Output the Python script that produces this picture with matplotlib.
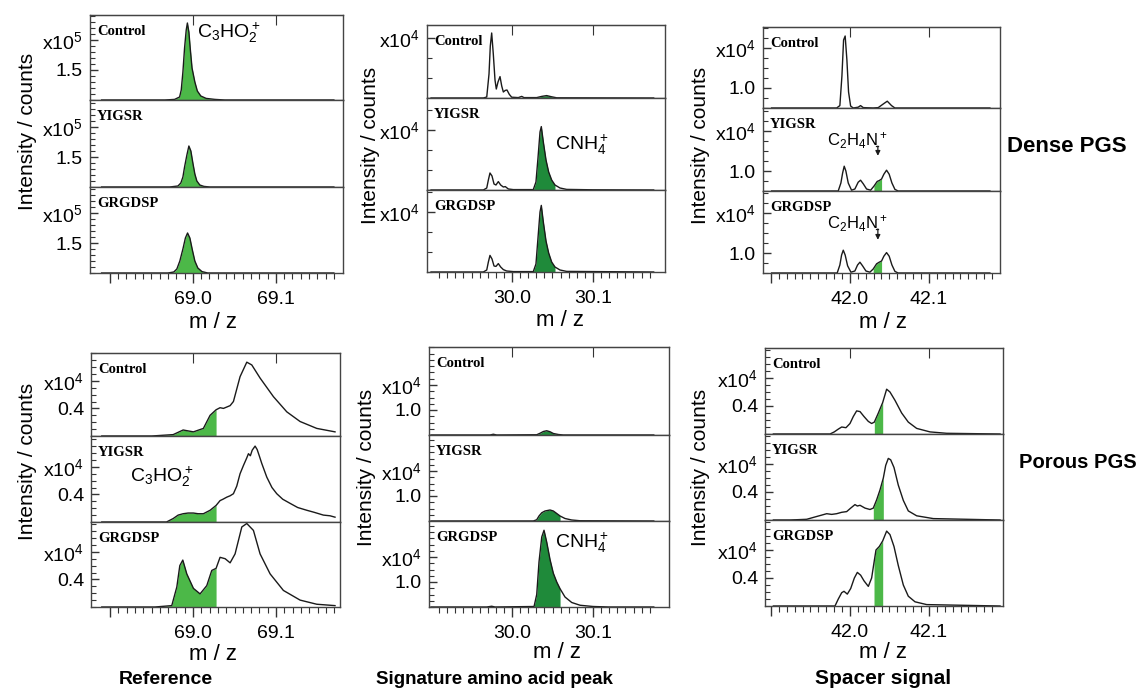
import numpy as np
import matplotlib
matplotlib.use("Agg")
import matplotlib.pyplot as plt
from matplotlib.ticker import FixedLocator, FixedFormatter, MultipleLocator, NullLocator

plt.rcParams['font.family'] = ['Liberation Sans', 'DejaVu Sans']
plt.rcParams['mathtext.fontset'] = 'custom'
plt.rcParams['mathtext.rm'] = 'Liberation Sans'
plt.rcParams['mathtext.it'] = 'Liberation Sans:italic'
plt.rcParams['mathtext.bf'] = 'Liberation Sans:bold'

# ---- labels ----
samples = ["Control", "YIGSR", "GRGDSP"]
column_titles = ["Reference", "Signature amino acid peak", "Spacer signal"]
row_titles = ["Dense PGS", "Porous PGS"]

# ---- spectra, (m/z, intensity) ----
# reference peak C3HO2+, dense (x10^5)
ref_dense_control = [(68.89, 0), (68.966, 0), (68.978, 0.03), (68.984, 0.15), (68.986, 0.5), (68.988, 1.4),
                     (68.990, 2.6), (68.992, 3.5), (68.9934, 3.85), (68.9952, 3.4), (68.997, 2.5), (68.999, 1.6),
                     (69.0024, 0.9), (69.0054, 0.45), (69.0096, 0.2), (69.016, 0.08), (69.0265, 0.03),
                     (69.0386, 0), (69.17, 0)]
ref_dense_yigsr = [(68.89, 0), (68.972, 0), (68.982, 0.05), (68.9855, 0.2), (68.988, 0.5), (68.990, 1.0),
                   (68.9928, 1.6), (68.9952, 2.05), (68.9976, 1.8), (69.0, 1.2), (69.0024, 0.65), (69.0048, 0.3),
                   (69.0084, 0.1), (69.0133, 0.03), (69.0205, 0), (69.17, 0)]
ref_dense_grgdsp = [(68.89, 0), (68.970, 0), (68.977, 0.05), (68.9807, 0.2), (68.9843, 0.6), (68.988, 1.2),
                    (68.991, 1.75), (68.9936, 2.0), (68.9964, 1.75), (68.9994, 1.15), (69.0024, 0.6),
                    (69.006, 0.25), (69.011, 0.07), (69.018, 0), (69.17, 0)]
ref_dense_fill = [(68.966, 69.0386), (68.972, 69.0205), (68.970, 69.018)]

# reference peak, porous (x10^4)
ref_porous_control = [(68.89, 0), (68.950, 0), (68.976, 0.02), (68.988, 0.087), (69.0004, 0.06), (69.0124, 0.11),
                      (69.0205, 0.3), (69.0277, 0.38), (69.0325, 0.41), (69.0366, 0.40), (69.0406, 0.42),
                      (69.0446, 0.44), (69.0486, 0.5), (69.0566, 0.86), (69.0647, 1.07), (69.0707, 1.03),
                      (69.0807, 0.84), (69.0968, 0.57), (69.1129, 0.35), (69.1289, 0.21), (69.149, 0.11),
                      (69.171, 0.06)]
ref_porous_yigsr = [(68.89, 0), (68.968, 0), (68.976, 0.05), (68.982, 0.1), (68.988, 0.12), (68.994, 0.13),
                    (69.0004, 0.13), (69.006, 0.12), (69.0124, 0.12), (69.0205, 0.17), (69.0277, 0.24),
                    (69.0325, 0.31), (69.036, 0.33), (69.0406, 0.36), (69.0446, 0.38), (69.0486, 0.41),
                    (69.0526, 0.52), (69.0566, 0.70), (69.0607, 0.82), (69.0647, 0.93), (69.0667, 0.99),
                    (69.069, 0.96), (69.0712, 1.04), (69.0747, 1.10), (69.0772, 1.05), (69.080, 0.95),
                    (69.0827, 0.85), (69.0888, 0.65), (69.095, 0.50), (69.1008, 0.41), (69.108, 0.33),
                    (69.1169, 0.27), (69.126, 0.21), (69.137, 0.17), (69.146, 0.14), (69.157, 0.10),
                    (69.165, 0.09), (69.171, 0.07)]
ref_porous_grgdsp = [(68.89, 0), (68.954, 0), (68.9743, 0.02), (68.9804, 0.29), (68.984, 0.6), (68.9876, 0.68),
                     (68.9924, 0.48), (69.0004, 0.27), (69.0084, 0.19), (69.0165, 0.31), (69.0225, 0.53),
                     (69.0277, 0.56), (69.0325, 0.72), (69.0386, 0.70), (69.0446, 0.64), (69.0506, 0.77),
                     (69.0587, 1.16), (69.0647, 1.21), (69.0727, 1.11), (69.0807, 0.77), (69.0928, 0.48),
                     (69.1088, 0.24), (69.1289, 0.10), (69.149, 0.04), (69.171, 0.02)]
ref_porous_fill = [(68.950, 69.0277), (68.968, 69.0277), (68.954, 69.0277)]

# signature peak CNH4+, dense (x10^4)
sig_dense_control = [(29.9, 0), (29.9646, 0), (29.9688, 0.05), (29.9716, 1.2), (29.9732, 2.6), (29.9749, 3.25),
                     (29.9769, 2.2), (29.979, 0.9), (29.9806, 0.45), (29.9827, 0.8), (29.9852, 1.07),
                     (29.9873, 0.6), (29.9893, 0.3), (29.9917, 0.38), (29.9938, 0.4), (29.9967, 0.18),
                     (29.9996, 0.04), (30.0078, 0.02), (30.012, 0.08), (30.0148, 0.02), (30.0305, 0.02),
                     (30.0367, 0.08), (30.0428, 0.12), (30.049, 0.06), (30.0552, 0.01), (30.175, 0)]
sig_dense_yigsr = [(29.9, 0), (29.9646, 0), (29.9688, 0.1), (29.9708, 0.5), (29.9728, 0.85), (29.9753, 0.7),
                   (29.9778, 0.3), (29.9802, 0.25), (29.9831, 0.42), (29.986, 0.25), (29.9893, 0.15),
                   (29.9917, 0.17), (29.9955, 0.05), (30.0016, 0.02), (30.0263, 0.02), (30.0296, 0.4),
                   (30.0321, 1.6), (30.0346, 2.9), (30.0362, 3.17), (30.0387, 2.4), (30.042, 1.5),
                   (30.0453, 0.9), (30.049, 0.5), (30.0531, 0.25), (30.0593, 0.1), (30.0675, 0.03),
                   (30.1, 0.01), (30.175, 0)]
sig_dense_grgdsp = [(29.9, 0), (29.9646, 0), (29.9688, 0.1), (29.9708, 0.5), (29.9728, 0.83), (29.9753, 0.65),
                    (29.9778, 0.3), (29.9802, 0.28), (29.9831, 0.42), (29.986, 0.25), (29.9893, 0.12),
                    (29.9934, 0.05), (30.0016, 0.02), (30.0263, 0.02), (30.0296, 0.4), (30.0321, 1.7),
                    (30.0346, 3.0), (30.0362, 3.33), (30.0387, 2.5), (30.042, 1.55), (30.0453, 0.95),
                    (30.049, 0.5), (30.0531, 0.25), (30.0593, 0.1), (30.0675, 0.03), (30.175, 0)]
sig_dense_fill = [(30.0305, 30.0552), (30.0263, 30.0531), (30.0263, 30.0531)]

# signature peak, porous (x10^4)
sig_porous_control = [(29.9, 0), (29.9728, 0), (29.9769, 0.03), (29.9811, 0), (30.0305, 0.01), (30.0346, 0.07),
                      (30.0387, 0.14), (30.0428, 0.17), (30.0469, 0.13), (30.051, 0.06), (30.0572, 0.02),
                      (30.0634, 0), (30.175, 0)]
sig_porous_yigsr = [(29.9, 0), (30.0263, 0), (30.0305, 0.05), (30.0333, 0.2), (30.0367, 0.33), (30.0407, 0.4),
                    (30.0469, 0.44), (30.051, 0.4), (30.0552, 0.3), (30.0593, 0.2), (30.0654, 0.1),
                    (30.0737, 0.04), (30.084, 0.01), (30.175, 0)]
sig_porous_grgdsp = [(29.9, 0), (29.9688, 0), (29.9749, 0.03), (29.979, 0), (30.0272, 0.02), (30.0305, 0.5),
                     (30.0333, 1.8), (30.0367, 2.8), (30.0395, 3.07), (30.0428, 2.6), (30.0469, 1.9),
                     (30.051, 1.35), (30.0552, 1.0), (30.0593, 0.73), (30.0654, 0.4), (30.0737, 0.18),
                     (30.084, 0.07), (30.1, 0.02), (30.12, 0), (30.175, 0)]
sig_porous_fill = [(30.0305, 30.0572), (30.0263, 30.0593), (30.0272, 30.0593)]

# spacer signal C2H4N+, dense (x10^4, axis starts at 0.5)
spc_dense_control = [(41.9009, 0.5), (41.9452, 0.5), (41.9832, 0.5), (41.9873, 0.56), (41.9899, 1.3),
                     (41.992, 2.2), (41.994, 2.3), (41.9962, 1.7), (41.9983, 0.9), (42.0009, 0.55),
                     (42.0042, 0.5), (42.0105, 0.52), (42.0135, 0.56), (42.0169, 0.51), (42.0295, 0.5),
                     (42.0359, 0.51), (42.0422, 0.6), (42.0473, 0.67), (42.0527, 0.56), (42.057, 0.5),
                     (42.1772, 0.5)]
spc_dense_yigsr = [(41.9009, 0.5), (41.9852, 0.5), (41.9886, 0.7), (41.9908, 0.95), (41.9928, 1.12),
                   (41.9949, 1.0), (41.9979, 0.7), (42.0021, 0.52), (42.0063, 0.55), (42.0105, 0.72),
                   (42.0135, 0.77), (42.0169, 0.68), (42.0211, 0.55), (42.0262, 0.52), (42.0304, 0.62),
                   (42.0346, 0.74), (42.0371, 0.76), (42.0401, 0.8), (42.043, 0.92), (42.0464, 1.02),
                   (42.0497, 0.92), (42.0532, 0.7), (42.057, 0.54), (42.0611, 0.5), (42.1772, 0.5)]
spc_dense_grgdsp = [(41.9009, 0.5), (41.9839, 0.5), (41.9873, 0.7), (41.9895, 0.95), (41.9916, 1.07),
                    (41.994, 0.95), (41.9971, 0.68), (42.0013, 0.52), (42.0063, 0.55), (42.0097, 0.7),
                    (42.0127, 0.77), (42.016, 0.68), (42.0203, 0.55), (42.0253, 0.52), (42.0295, 0.6),
                    (42.0338, 0.73), (42.0371, 0.77), (42.0401, 0.8), (42.043, 0.92), (42.0464, 1.01),
                    (42.0497, 0.92), (42.0532, 0.7), (42.057, 0.54), (42.0611, 0.5), (42.1772, 0.5)]
spc_dense_fill = [None, (42.0304, 42.0401), (42.0295, 42.0401)]

# spacer signal, porous (x10^4)
spc_porous_control = [(41.903, 0), (41.9747, 0), (41.9801, 0.03), (41.9852, 0.07), (41.9895, 0.10),
                      (41.9949, 0.09), (42.0, 0.15), (42.0042, 0.25), (42.0084, 0.33), (42.0127, 0.32),
                      (42.0177, 0.25), (42.0232, 0.18), (42.0274, 0.15), (42.0308, 0.17), (42.0359, 0.3),
                      (42.0414, 0.45), (42.0464, 0.64), (42.0506, 0.6), (42.057, 0.48), (42.0654, 0.3),
                      (42.0738, 0.17), (42.0844, 0.08), (42.1013, 0.03), (42.1224, 0.01), (42.19, 0)]
spc_porous_yigsr = [(41.903, 0), (41.924, 0), (41.9452, 0.01), (41.9515, 0.03), (41.9578, 0.05), (41.9642, 0.07),
                    (41.9705, 0.09), (41.9768, 0.08), (41.9831, 0.09), (41.9895, 0.11), (41.9958, 0.12),
                    (42.0009, 0.17), (42.0063, 0.22), (42.0093, 0.2), (42.0127, 0.21), (42.019, 0.17),
                    (42.0253, 0.15), (42.0295, 0.17), (42.0338, 0.29), (42.038, 0.43), (42.0422, 0.6),
                    (42.0452, 0.78), (42.0485, 0.88), (42.0515, 0.86), (42.0557, 0.75), (42.0611, 0.5),
                    (42.0675, 0.28), (42.0738, 0.13), (42.0844, 0.06), (42.1055, 0.02), (42.19, 0)]
spc_porous_grgdsp = [(41.903, 0), (41.981, 0), (41.9852, 0.1), (41.9895, 0.19), (41.9924, 0.21), (41.9966, 0.17),
                     (42.0009, 0.25), (42.0055, 0.4), (42.0093, 0.48), (42.0135, 0.44), (42.0177, 0.36),
                     (42.0232, 0.28), (42.0274, 0.4), (42.0304, 0.62), (42.0329, 0.8), (42.0371, 0.85),
                     (42.0414, 0.93), (42.0464, 1.07), (42.0506, 1.02), (42.0557, 0.85), (42.0611, 0.58),
                     (42.0675, 0.3), (42.0738, 0.14), (42.0823, 0.06), (42.0971, 0.02), (42.19, 0)]
spc_porous_fill = [(42.0308, 42.0414), (42.0295, 42.0422), (42.0304, 42.0414)]

# ---- axis ticks per column ----
x_major = [[68.9, 69.0, 69.1], [30.0, 30.1], [41.9, 42.0, 42.1]]
x_major_labels = [['', '69.0', '69.1'], ['30.0', '30.1'], ['', '42.0', '42.1']]
x_minor = [np.arange(68.9, 69.175, 0.01), np.arange(29.91, 30.175, 0.01), np.arange(41.9, 42.185, 0.01)]
x_top = [[69.0, 69.1], [30.0, 30.1], [42.0, 42.1]]
greens = ['#4cb848', '#1f8a3a', '#4cb848']

W, H = 1139, 691
fig = plt.figure(figsize=(W / 100, H / 100), dpi=100)

# pixel layout of the six blocks (each block = 3 stacked panels)
blocks = [
    dict(col=0, box=(90, 343), edges=(15, 100, 187, 273), xlim=(68.876, 69.181),
         curves=[ref_dense_control, ref_dense_yigsr, ref_dense_grgdsp], fills=ref_dense_fill,
         base=0.0, ppu=20, yt=[1.5, 3.0], ytl=['1.5', 'x10$^5$'], ystep=0.3),
    dict(col=1, box=(427, 665), edges=(25, 98, 190, 272), xlim=(29.895, 30.189),
         curves=[sig_dense_control, sig_dense_yigsr, sig_dense_grgdsp], fills=sig_dense_fill,
         base=0.0, ppu=20, yt=[3.0], ytl=['x10$^4$'], ystep=1.0),
    dict(col=2, box=(763, 1000), edges=(27, 108, 191, 273), xlim=(41.89, 42.19),
         curves=[spc_dense_control, spc_dense_yigsr, spc_dense_grgdsp], fills=spc_dense_fill,
         base=0.5, ppu=40, yt=[1.0, 2.0], ytl=['1.0', 'x10$^4$'], ystep=0.25),
    dict(col=0, box=(91, 340), edges=(353, 436, 522, 607), xlim=(68.877, 69.177),
         curves=[ref_porous_control, ref_porous_yigsr, ref_porous_grgdsp], fills=ref_porous_fill,
         base=0.0, ppu=69, yt=[0.4, 0.8], ytl=['0.4', 'x10$^4$'], ystep=0.1),
    dict(col=1, box=(429, 669), edges=(347, 435, 521, 607), xlim=(29.8975, 30.1938),
         curves=[sig_porous_control, sig_porous_yigsr, sig_porous_grgdsp], fills=sig_porous_fill,
         base=0.0, ppu=25, yt=[1.0, 2.0], ytl=['1.0', 'x10$^4$'], ystep=0.25),
    dict(col=2, box=(765, 1003), edges=(348, 434, 520, 606), xlim=(41.8924, 42.1937),
         curves=[spc_porous_control, spc_porous_yigsr, spc_porous_grgdsp], fills=spc_porous_fill,
         base=0.0, ppu=70, yt=[0.4, 0.8], ytl=['0.4', 'x10$^4$'], ystep=0.1),
]

panels = []
for b in blocks:
    col = b['col']
    left, right = b['box']
    row_axes = []
    for i in range(3):
        top, bot = b['edges'][i], b['edges'][i + 1]
        ax = fig.add_axes([left / W, 1 - bot / H, (right - left) / W, (bot - top) / H])
        pts = np.array(b['curves'][i], dtype=float)
        x, y = pts[:, 0], pts[:, 1]
        win = b['fills'][i]
        if win is not None:
            m = (x >= win[0] - 1e-6) & (x <= win[1] + 1e-6)
            ax.fill_between(x[m], b['base'], y[m], color=greens[col], lw=0, zorder=1)
        ax.plot(x, y, color='#1a1a1a', lw=1.0, zorder=2)
        ax.set_xlim(*b['xlim'])
        ax.set_ylim(b['base'], b['base'] + (bot - top) / b['ppu'])

        ax.xaxis.set_major_locator(FixedLocator(x_major[col]))
        ax.xaxis.set_major_formatter(FixedFormatter(x_major_labels[col]))
        ax.xaxis.set_minor_locator(FixedLocator(x_minor[col]))
        ax.tick_params(axis='x', which='both', direction='out', bottom=True, top=False,
                       labelbottom=(i == 2), labelsize=14, pad=6, color='#333333')
        ax.tick_params(axis='x', which='major', length=7, width=1.0)
        ax.tick_params(axis='x', which='minor', length=4, width=0.8)

        ax.yaxis.set_major_locator(FixedLocator(b['yt']))
        ax.yaxis.set_major_formatter(FixedFormatter(b['ytl']))
        ax.yaxis.set_minor_locator(MultipleLocator(b['ystep']))
        ax.tick_params(axis='y', which='both', direction='in', left=True, right=False,
                       labelsize=14, pad=5, color='#333333')
        ax.tick_params(axis='y', which='major', length=6, width=1.0)
        ax.tick_params(axis='y', which='minor', length=3.5, width=0.8)

        for s in ax.spines.values():
            s.set_linewidth(1.0)
            s.set_color('#444444')

        if i == 0:
            sec = ax.secondary_xaxis('top')
            sec.set_xticks(x_top[col])
            sec.xaxis.set_minor_locator(NullLocator())
            sec.tick_params(axis='x', direction='in', length=7, labeltop=False, color='#333333')
            sec.spines['top'].set_color('#444444')

        ax.annotate(samples[i], xy=(0, 1), xycoords='axes fraction', xytext=(7, -10),
                    textcoords='offset pixels', ha='left', va='top', fontsize=10.5,
                    fontweight='bold', family='Liberation Serif')
        row_axes.append(ax)
    panels.append(row_axes)

# ---- peak labels ----
chem_kw = dict(fontsize=14, ha='left', va='center')
panels[0][0].text(69.005, 3.35, r'C$_3$HO$_2^+$', **chem_kw)
panels[3][1].text(68.924, 0.65, r'C$_3$HO$_2^+$', **chem_kw)
panels[1][1].text(30.053, 2.25, r'CNH$_4^+$', **chem_kw)
panels[4][2].text(30.053, 2.56, r'CNH$_4^+$', **chem_kw)
for i, (ty, y_top, y_tip) in zip([1, 2], [(1.75, 1.62, 1.38), (1.73, 1.6, 1.33)]):
    ax = panels[2][i]
    ax.text(41.9705, ty, r'C$_2$H$_4$N$^+$', fontsize=12, ha='left', va='center')
    ax.plot([42.0325, 42.0354], [y_top, y_top], color='#1a1a1a', lw=0.9)
    ax.annotate('', xy=(42.0354, y_tip), xytext=(42.0354, y_top),
                arrowprops=dict(arrowstyle='-|>', color='#1a1a1a', lw=0.9,
                                mutation_scale=7, shrinkA=0, shrinkB=0))


def ftext(px, py, s, **kw):
    fig.text(px / W, 1 - py / H, s, **kw)


# axis labels
for px, py in [(28, 131), (370, 145), (700, 145), (28, 461), (367, 467), (700, 467)]:
    ftext(px, py, 'Intensity / counts', rotation=90, ha='center', va='center', fontsize=15)
for px, py in [(213, 322), (560, 320), (883, 322), (213, 654), (557, 653), (883, 652)]:
    ftext(px, py, 'm / z', ha='center', va='center', fontsize=16)

for px, t, fs in zip([166, 494, 883], column_titles, [14, 13.5, 15]):
    ftext(px, 679, t, ha='center', va='center', fontsize=fs, fontweight='bold')
ftext(1067, 147, row_titles[0], ha='center', va='center', fontsize=16, fontweight='bold')
ftext(1019, 462, row_titles[1], ha='left', va='center', fontsize=14.5, fontweight='bold')

fig.savefig('out.png', dpi=100, facecolor='white')
